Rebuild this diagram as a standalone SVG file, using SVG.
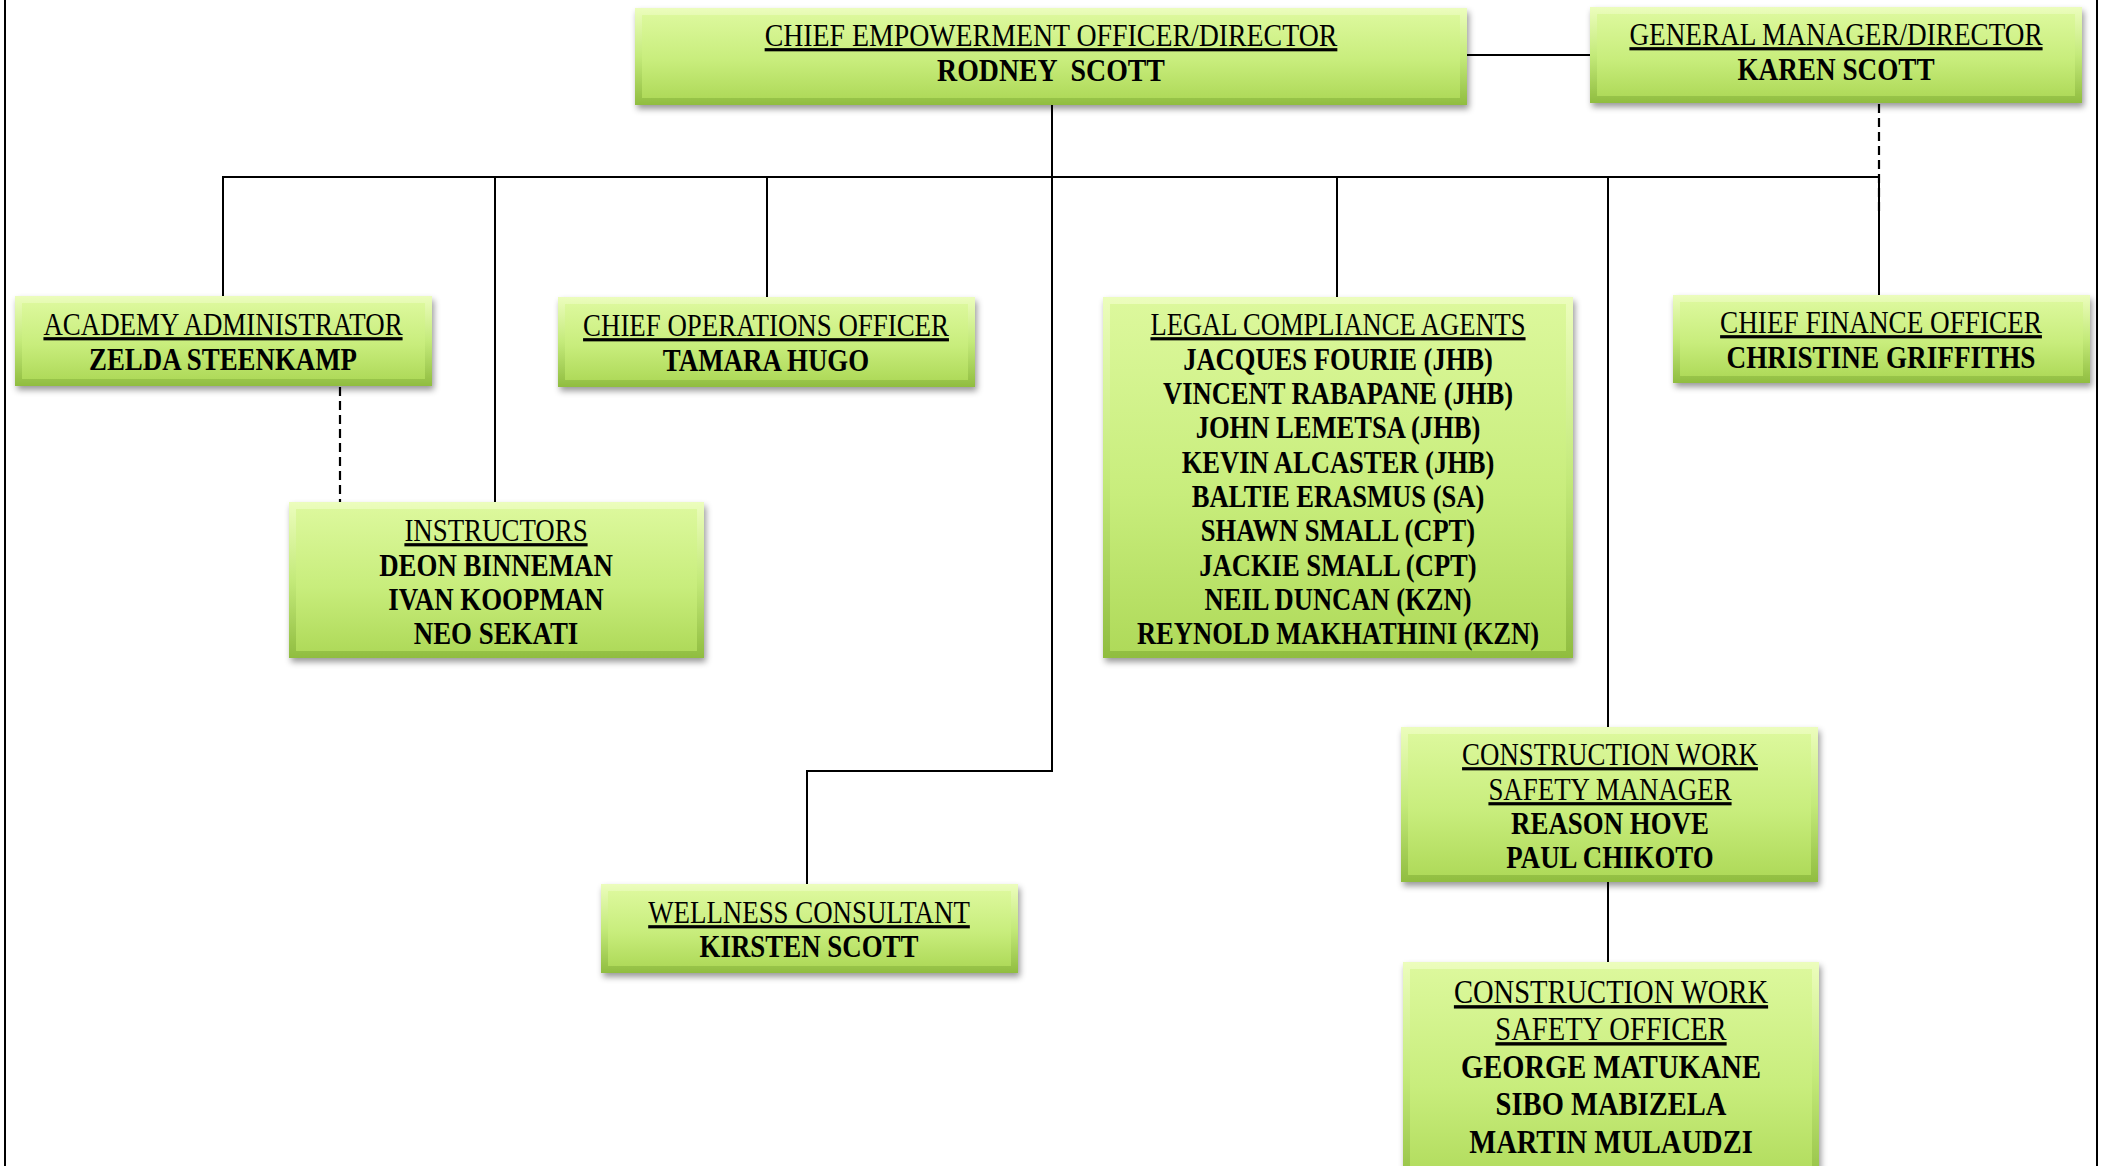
<svg xmlns="http://www.w3.org/2000/svg" width="2105" height="1166" viewBox="0 0 2105 1166">
<defs>
<linearGradient id="gOuter" x1="0" y1="0" x2="0" y2="1">
<stop offset="0" stop-color="#ecfdbd"/>
<stop offset="0.5" stop-color="#c4ea7a"/>
<stop offset="1" stop-color="#90bd40"/>
</linearGradient>
<linearGradient id="gInner" x1="0" y1="0" x2="0" y2="1">
<stop offset="0" stop-color="#dcf89c"/>
<stop offset="0.55" stop-color="#c8ed7c"/>
<stop offset="1" stop-color="#afda5a"/>
</linearGradient>
<filter id="shadow" x="-5%" y="-10%" width="112%" height="130%">
<feDropShadow dx="2" dy="4" stdDeviation="3" flood-color="#000" flood-opacity="0.4"/>
</filter>
</defs>
<style>
.outer{fill:url(#gOuter);filter:url(#shadow)}
.inner{fill:url(#gInner)}
.ln{stroke:#000;stroke-width:2;fill:none}
.dash{stroke:#000;stroke-width:2.2;fill:none;stroke-dasharray:9 5}
text{font-family:"Liberation Serif","Times New Roman",serif;font-size:32px;fill:#000;text-anchor:middle;white-space:pre}
.t{text-decoration:underline}
.n{font-weight:bold}
.big text{font-size:34px}
</style>
<rect width="2105" height="1166" fill="#fff"/>
<g id="connectors">
<line class="ln" x1="5" y1="0" x2="5" y2="1166"/>
<line class="ln" x1="2097" y1="0" x2="2097" y2="1166"/>
<line class="ln" x1="1467" y1="55" x2="1590" y2="55"/>
<line class="ln" x1="222" y1="177" x2="1880" y2="177"/>
<line class="ln" x1="223" y1="177" x2="223" y2="296"/>
<line class="ln" x1="495" y1="177" x2="495" y2="502"/>
<line class="ln" x1="767" y1="177" x2="767" y2="297"/>
<polyline class="ln" points="1052,105 1052,771 807,771 807,884"/>
<line class="ln" x1="1337" y1="177" x2="1337" y2="297"/>
<line class="ln" x1="1608" y1="177" x2="1608" y2="727"/>
<line class="ln" x1="1879" y1="177" x2="1879" y2="295"/>
<line class="dash" x1="1879" y1="104" x2="1879" y2="212"/>
<line class="dash" x1="340" y1="387" x2="340" y2="502"/>
<line class="ln" x1="1608" y1="882" x2="1608" y2="962"/>
</g>
<g id="ceo">
<rect class="outer" x="635" y="8" width="832" height="97"/>
<rect class="inner" x="642" y="15" width="818" height="83"/>
<g transform="translate(1051 0) scale(0.87 1)">
<text class="t" x="0" y="46">CHIEF EMPOWERMENT OFFICER/DIRECTOR</text>
<text class="n" x="0" y="81">RODNEY  SCOTT</text>
</g>
</g>
<g id="gm">
<rect class="outer" x="1590" y="7" width="492" height="96"/>
<rect class="inner" x="1597" y="14" width="478" height="82"/>
<g transform="translate(1836 0) scale(0.85 1)">
<text class="t" x="0" y="45">GENERAL MANAGER/DIRECTOR</text>
<text class="n" x="0" y="80">KAREN SCOTT</text>
</g>
</g>
<g id="academy">
<rect class="outer" x="15" y="296" width="417" height="90"/>
<rect class="inner" x="22" y="303" width="403" height="76"/>
<g transform="translate(223 0) scale(0.84 1)">
<text class="t" x="0" y="335">ACADEMY ADMINISTRATOR</text>
<text class="n" x="0" y="370">ZELDA STEENKAMP</text>
</g>
</g>
<g id="coo">
<rect class="outer" x="558" y="297" width="417" height="90"/>
<rect class="inner" x="565" y="304" width="403" height="76"/>
<g transform="translate(766 0) scale(0.84 1)">
<text class="t" x="0" y="336">CHIEF OPERATIONS OFFICER</text>
<text class="n" x="0" y="371">TAMARA HUGO</text>
</g>
</g>
<g id="instructors">
<rect class="outer" x="289" y="502" width="415" height="156"/>
<rect class="inner" x="296" y="509" width="401" height="142"/>
<g transform="translate(496 0) scale(0.84 1)">
<text class="t" x="0" y="541">INSTRUCTORS</text>
<text class="n" x="0" y="576">DEON BINNEMAN</text>
<text class="n" x="0" y="610">IVAN KOOPMAN</text>
<text class="n" x="0" y="644">NEO SEKATI</text>
</g>
</g>
<g id="legal">
<rect class="outer" x="1103" y="297" width="470" height="361"/>
<rect class="inner" x="1110" y="304" width="456" height="347"/>
<g transform="translate(1338 0) scale(0.83 1)">
<text class="t" x="0" y="335">LEGAL COMPLIANCE AGENTS</text>
<text class="n" x="0" y="370">JACQUES FOURIE (JHB)</text>
<text class="n" x="0" y="404">VINCENT RABAPANE (JHB)</text>
<text class="n" x="0" y="438">JOHN LEMETSA (JHB)</text>
<text class="n" x="0" y="473">KEVIN ALCASTER (JHB)</text>
<text class="n" x="0" y="507">BALTIE ERASMUS (SA)</text>
<text class="n" x="0" y="541">SHAWN SMALL (CPT)</text>
<text class="n" x="0" y="576">JACKIE SMALL (CPT)</text>
<text class="n" x="0" y="610">NEIL DUNCAN (KZN)</text>
<text class="n" x="0" y="644">REYNOLD MAKHATHINI (KZN)</text>
</g>
</g>
<g id="cfo">
<rect class="outer" x="1673" y="295" width="417" height="88"/>
<rect class="inner" x="1680" y="302" width="403" height="74"/>
<g transform="translate(1881 0) scale(0.85 1)">
<text class="t" x="0" y="333">CHIEF FINANCE OFFICER</text>
<text class="n" x="0" y="368">CHRISTINE GRIFFITHS</text>
</g>
</g>
<g id="wellness">
<rect class="outer" x="601" y="884" width="417" height="89"/>
<rect class="inner" x="608" y="891" width="403" height="75"/>
<g transform="translate(809 0) scale(0.84 1)">
<text class="t" x="0" y="923">WELLNESS CONSULTANT</text>
<text class="n" x="0" y="957">KIRSTEN SCOTT</text>
</g>
</g>
<g id="cwsm">
<rect class="outer" x="1401" y="727" width="417" height="155"/>
<rect class="inner" x="1408" y="734" width="403" height="141"/>
<g transform="translate(1610 0) scale(0.84 1)">
<text class="t" x="0" y="765">CONSTRUCTION WORK</text>
<text class="t" x="0" y="800">SAFETY MANAGER</text>
<text class="n" x="0" y="834">REASON HOVE</text>
<text class="n" x="0" y="868">PAUL CHIKOTO</text>
</g>
</g>
<g id="cwso" class="big">
<rect class="outer" x="1403" y="962" width="416" height="230"/>
<rect class="inner" x="1410" y="969" width="402" height="216"/>
<g transform="translate(1611 0) scale(0.84 1)">
<text class="t" x="0" y="1003">CONSTRUCTION WORK</text>
<text class="t" x="0" y="1040">SAFETY OFFICER</text>
<text class="n" x="0" y="1078">GEORGE MATUKANE</text>
<text class="n" x="0" y="1115">SIBO MABIZELA</text>
<text class="n" x="0" y="1153">MARTIN MULAUDZI</text>
</g>
</g>
</svg>
